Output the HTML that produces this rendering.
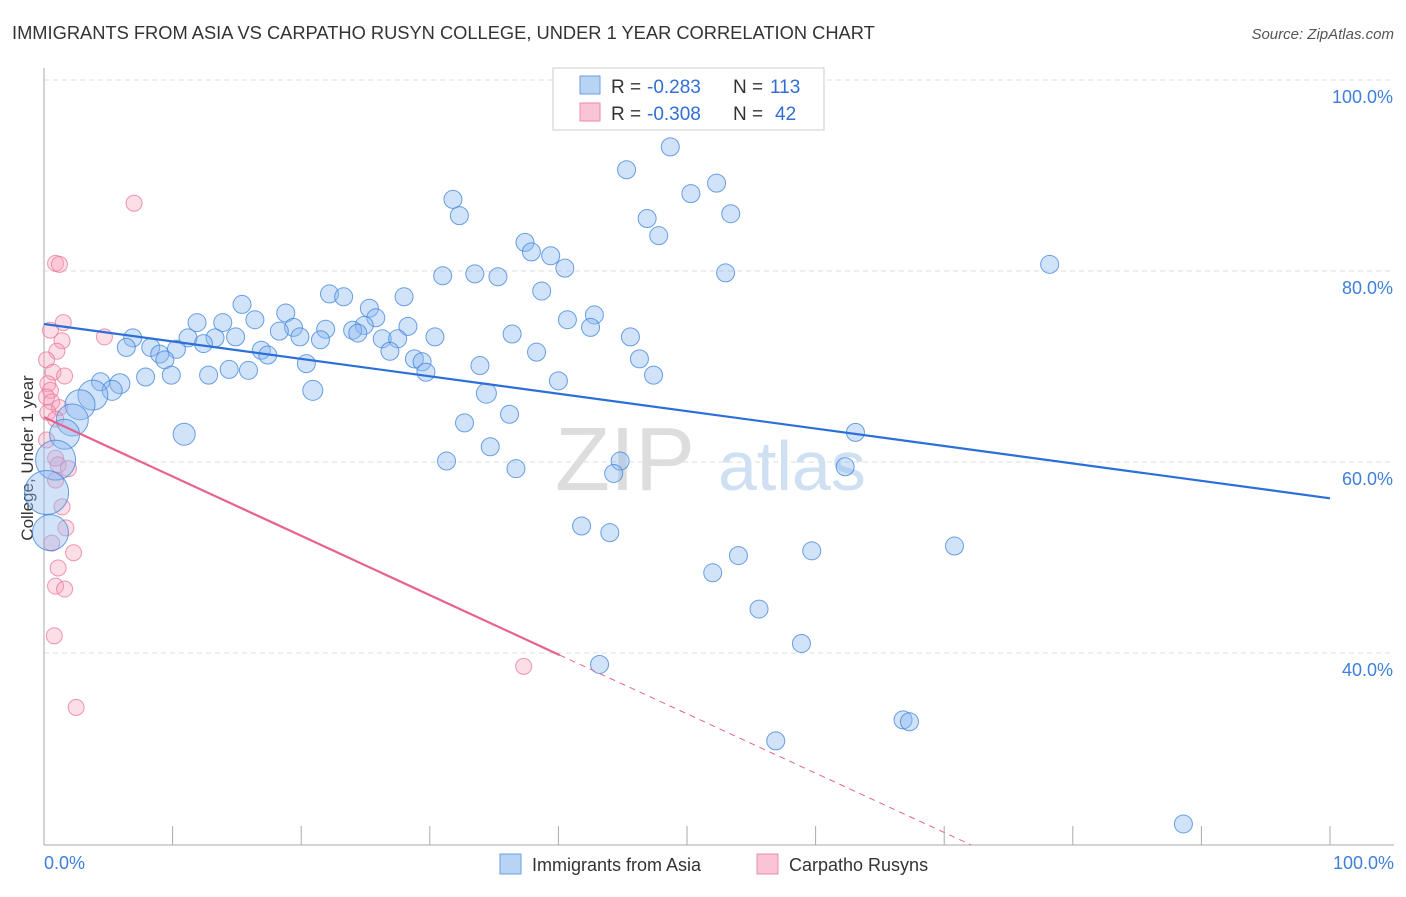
<!DOCTYPE html>
<html><head><meta charset="utf-8"><style>
body{margin:0;background:#fff;font-family:"Liberation Sans",sans-serif}
svg text{font-family:"Liberation Sans",sans-serif}
</style></head><body>
<svg id="chart" width="1406" height="892" viewBox="0 0 1406 892" xmlns="http://www.w3.org/2000/svg">
<text x="12" y="39" font-size="18.3" fill="#333">IMMIGRANTS FROM ASIA VS CARPATHO RUSYN COLLEGE, UNDER 1 YEAR CORRELATION CHART</text>
<text x="1394" y="39" font-size="15" fill="#555" text-anchor="end" font-style="italic">Source: ZipAtlas.com</text>
<g id="grid"></g>
<g id="axes"></g>
<text x="555" y="490" font-size="90" fill="#ddd" font-family="Liberation Serif">ZIP</text>
<text x="718" y="490" font-size="70" fill="#cfe0f3">atlas</text>
<text transform="translate(33,458) rotate(-90)" font-size="17" fill="#333" text-anchor="middle">College, Under 1 year</text>
<g id="pink"></g>
<g id="blue"></g>
<g id="lines"></g>
<g>
<rect x="553" y="68" width="271" height="62" fill="#fff" stroke="#ccc"/>
<rect x="580" y="76" width="20" height="18" fill="#b8d4f5" stroke="#6a9fe0"/>
<rect x="580" y="103" width="20" height="18" fill="#f9c5d4" stroke="#ec8aa8"/>
<text x="611" y="93" font-size="19" fill="#333">R =</text>
<text x="647" y="93" font-size="19" fill="#2f6fd6">-0.283</text>
<text x="733" y="93" font-size="19" fill="#333">N =</text>
<text x="770" y="93" font-size="19" fill="#2f6fd6">113</text>
<text x="611" y="120" font-size="19" fill="#333">R =</text>
<text x="647" y="120" font-size="19" fill="#2f6fd6">-0.308</text>
<text x="733" y="120" font-size="19" fill="#333">N =</text>
<text x="775" y="120" font-size="19" fill="#2f6fd6">42</text>
</g>
<g>
<rect x="500" y="854" width="21" height="20" fill="#b8d4f5" stroke="#6a9fe0"/>
<text x="532" y="871" font-size="18" fill="#333">Immigrants from Asia</text>
<rect x="757" y="854" width="21" height="20" fill="#f9c5d4" stroke="#ec8aa8"/>
<text x="789" y="871" font-size="18" fill="#333">Carpatho Rusyns</text>
</g>
</svg>
<script>
const blueX=[48.7,45.3,50.3,52.3,31.8,32.3,46.9,53.4,47.8,37.4,37.9,39.4,40.5,31.0,33.5,35.3,53.0,78.2,38.7,28.0,22.2,23.3,15.4,25.3,18.8,11.9,13.9,16.4,25.8,24.9,40.7,42.8,42.5,28.3,21.9,19.4,18.3,24.0,24.4,36.4,30.4,6.9,11.2,13.3,14.9,19.9,21.5,26.3,27.5,45.6,6.4,8.3,10.3,12.4,16.9,17.4,9.0,9.4,26.9,38.3,28.8,29.4,20.4,46.3,33.9,29.7,14.4,15.9,12.8,7.9,9.9,47.4,40.0,4.4,5.9,5.3,20.9,34.4,3.8,2.8,2.2,36.2,32.7,10.9,63.1,1.6,34.7,0.9,44.8,31.3,36.7,44.3,62.3,0.2,0.5,41.8,44.0,70.8,59.7,54.0,52.0,55.6,58.9,43.2,66.8,67.3,56.9,88.6];
const blueY=[93.0,90.6,88.1,89.2,87.5,85.8,85.5,86.0,83.7,83.0,82.0,81.6,80.3,79.5,79.7,79.4,79.8,80.7,77.9,77.3,77.6,77.3,76.5,76.1,75.6,74.6,74.6,74.9,75.1,74.3,74.9,75.4,74.1,74.2,73.9,74.1,73.7,73.8,73.5,73.4,73.1,73.0,73.0,73.0,73.1,73.1,72.8,72.9,72.9,73.1,72.0,72.0,71.8,72.4,71.7,71.2,71.3,70.7,71.6,71.5,70.8,70.5,70.3,70.8,70.1,69.4,69.7,69.6,69.1,68.9,69.1,69.1,68.5,68.4,68.2,67.5,67.5,67.2,67.0,66.0,64.4,65.0,64.1,62.9,63.1,62.9,61.6,60.2,60.1,60.1,59.3,58.8,59.5,56.8,52.6,53.3,52.6,51.2,50.7,50.2,48.4,44.6,41.0,38.8,33.0,32.8,30.8,22.1];
const blueBig={74:10,75:10,76:10,77:10,78:15,79:15,80:16,83:11,85:15,87:20,93:22,94:18};
const pinkX=[7.0,0.9,1.2,1.5,0.5,4.7,1.4,1.0,0.2,0.7,1.6,0.3,0.5,0.2,0.6,1.2,0.3,0.9,0.2,0.9,1.1,1.9,0.9,1.4,1.7,0.6,2.3,1.1,0.9,1.6,0.8,37.3,2.5];
const pinkY=[87.1,80.8,80.7,74.6,73.8,73.1,72.7,71.6,70.7,69.4,69.0,68.2,67.5,66.8,66.3,65.7,65.2,64.5,62.3,60.4,59.7,59.3,58.1,55.3,53.1,51.5,50.5,48.9,47.0,46.7,41.8,38.6,34.3];
const blueTrend=[74.45,56.2];
const pinkTrend=[64.7,19.9];
const yTicks=[100,80,60,40];
const NS="http://www.w3.org/2000/svg";
const sx=v=>44+v*12.86, sy=v=>80+(100-v)*9.55;
function mk(t,a,p){const e=document.createElementNS(NS,t);for(const k in a)e.setAttribute(k,a[k]);p.appendChild(e);return e;}
const grid=document.getElementById('grid'),axes=document.getElementById('axes');
yTicks.forEach(v=>{
 const l=mk('line',{x1:44,x2:1394,y1:sy(v),y2:sy(v),stroke:'#ddd','stroke-dasharray':'5,4'},grid);
 
 
 const t=mk('text',{x:1393,y:sy(v)+23,'font-size':18,fill:'#3f7fdc','text-anchor':'end'},axes);
 t.textContent=v.toFixed(1)+'%';
 
 
});
mk('line',{x1:44,x2:44,y1:68,y2:845,stroke:'#aaa'},axes);
mk('line',{x1:44,x2:1394,y1:845,y2:845,stroke:'#aaa'},axes);
for(let i=1;i<=10;i++){const l=mk('line',{x1:sx(i*10),x2:sx(i*10),y1:826,y2:845,stroke:'#aaa'},axes);}
let t=mk('text',{x:44,y:869,'font-size':18,fill:'#3f7fdc'},axes);t.textContent='0.0%';


t=mk('text',{x:1394,y:869,'font-size':18,fill:'#3f7fdc','text-anchor':'end'},axes);t.textContent='100.0%';


const pg=document.getElementById('pink');
pinkX.forEach((x,i)=>{const c=mk('circle',{cx:sx(x),cy:sy(pinkY[i]),r:8,fill:'rgba(246,160,186,0.35)',stroke:'rgba(232,110,150,0.7)'},pg);
 
 });
const bg=document.getElementById('blue');
blueX.forEach((x,i)=>{const c=mk('circle',{cx:sx(x),cy:sy(blueY[i]),r:blueBig[i]||9,fill:'rgba(140,185,240,0.4)',stroke:'rgba(60,130,220,0.75)'},bg);
 
 });
const lg=document.getElementById('lines');
let l=mk('line',{x1:sx(0),y1:sy(blueTrend[0]),x2:sx(100),y2:sy(blueTrend[1]),stroke:'#2c6fd8','stroke-width':2.2},lg);


const pslope=(pinkTrend[1]-pinkTrend[0]), pEnd=72.1, pSolid=40.1;
const pMid=pinkTrend[0]+pslope*pSolid/pEnd;
l=mk('line',{x1:sx(0),y1:sy(pinkTrend[0]),x2:sx(pSolid),y2:sy(pMid),stroke:'#e8628f','stroke-width':2.2},lg);


l=mk('line',{x1:sx(pSolid),y1:sy(pMid),x2:sx(pEnd),y2:sy(pinkTrend[1]),stroke:'#e8628f','stroke-width':1,'stroke-dasharray':'6,5'},lg);


</script>
</body></html>
